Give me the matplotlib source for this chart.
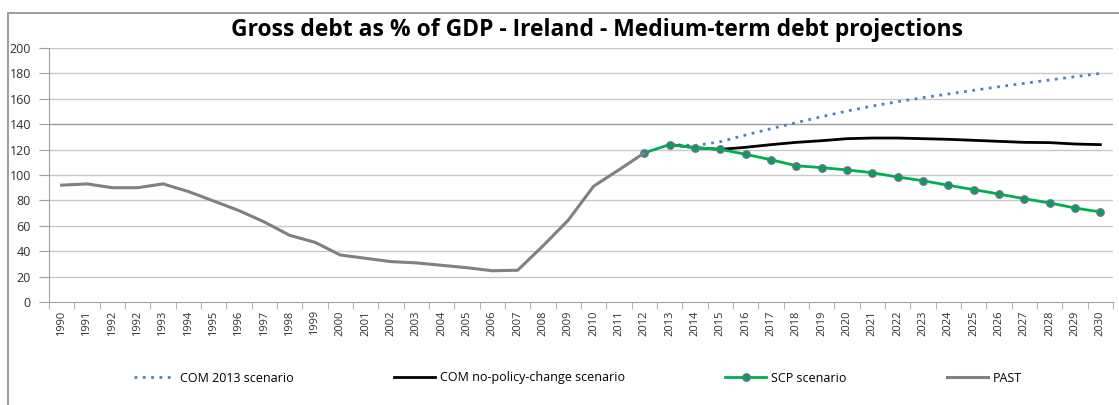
# Gross debt as % of GDP - Ireland, medium-term debt projections (Excel-style line chart)

import numpy as np
import matplotlib.pyplot as plt
from matplotlib.patches import Rectangle

plt.rcParams['font.family'] = ['Open Sans', 'DejaVu Sans']

# x categories (note: 1992 appears twice in the original)
years = ['1990', '1991', '1992', '1992'] + [str(y) for y in range(1993, 2031)]

# past data 1990..2012 (incl. duplicated 1992)
past = [92, 93, 90, 90, 93, 87, 79.5, 72, 63, 52.5, 47, 37, 34.4, 31.8, 30.8,
        28.9, 27, 24.6, 25, 44.2, 64.5, 91.2, 104.1, 117.4]

# projections from 2012 to 2030
scp = [117.4, 124, 121.5, 120.2, 116.3, 112, 107.3, 105.8, 104, 101.8, 98.4,
       95.5, 91.9, 88.5, 85, 81.3, 78, 74, 70.9]
com_npc = [None, 124, 121.5, 120.2, 121.8, 123.9, 125.7, 127, 128.6, 129.1,
           129.1, 128.6, 128.1, 127.3, 126.5, 125.7, 125.5, 124.4, 123.9]
com_2013 = [None, 124, 123.2, 126.2, 131.5, 136.5, 141.2, 145.9, 150.4, 154.3,
            157.7, 160.9, 163.8, 166.7, 169.5, 172.2, 174.8, 177.4, 180]

x = np.arange(len(years))
x_past = x[:len(past)]
x_proj = x[len(past) - 1:]

com_npc = np.array(com_npc, dtype=float)
com_2013 = np.array(com_2013, dtype=float)

fig = plt.figure(figsize=(11.19, 4.05), dpi=100)
ax = fig.add_axes([49 / 1119, 1 - 302 / 405, (1113 - 49) / 1119, (302 - 48) / 405])

# outer chart frame
fig.patches.append(Rectangle((8 / 1119, -0.1), 1.2, 1 - 13 / 405 + 0.1,
                             transform=fig.transFigure, fill=False,
                             edgecolor='#8c8c8c', linewidth=1.2))

# horizontal gridlines
for v in range(20, 201, 20):
    c = '#9a9a9a' if v == 140 else '#c8c8c8'
    ax.axhline(v, color=c, linewidth=1.0, zorder=0)

ax.plot(x_proj, com_2013, color='#4F81BD', linestyle=(0, (1, 2.0)), linewidth=2.0,
        label='COM 2013 scenario', zorder=2)
ax.plot(x_proj, com_npc, color='black', linewidth=2.0,
        label='COM no-policy-change scenario', zorder=3)
ax.plot(x_proj, scp, color='#00B050', linewidth=2.0, marker='o', markersize=5.5,
        markerfacecolor='#00A550', markeredgecolor='#8064A2', markeredgewidth=0.8,
        label='SCP scenario', zorder=4)
ax.plot(x_past, past, color='#808080', linewidth=2.2, label='PAST', zorder=5)

ax.set_xlim(-0.5, len(years) - 0.5)
ax.set_ylim(0, 200)
ax.set_yticks(range(0, 201, 20))
ax.set_xticks(x)
ax.set_xticklabels(years, rotation=90, fontsize=8, color='#303030')
ax.set_xticks(np.arange(-0.5, len(years), 1), minor=True)
ax.tick_params(axis='x', which='major', length=0, pad=6)
ax.tick_params(axis='x', which='minor', length=5, color='#a0a0a0', direction='out')
ax.tick_params(axis='y', length=7, color='#a0a0a0', labelsize=9, labelcolor='#303030', pad=6)

for s in ['top', 'right']:
    ax.spines[s].set_visible(False)
ax.spines['left'].set_color('#a0a0a0')
ax.spines['bottom'].set_color('#a0a0a0')

fig.text(597 / 1119, 1 - 30 / 405, 'Gross debt as % of GDP - Ireland - Medium-term debt projections',
         ha='center', va='center', fontsize=16.5, fontweight='bold')

fig.legend(loc='center', bbox_to_anchor=(578 / 1119, 1 - 378 / 405), ncol=4,
           frameon=False, fontsize=9, handlelength=3.3, columnspacing=8.0,
           handletextpad=0.4)

fig.savefig('out.png', dpi=100)
